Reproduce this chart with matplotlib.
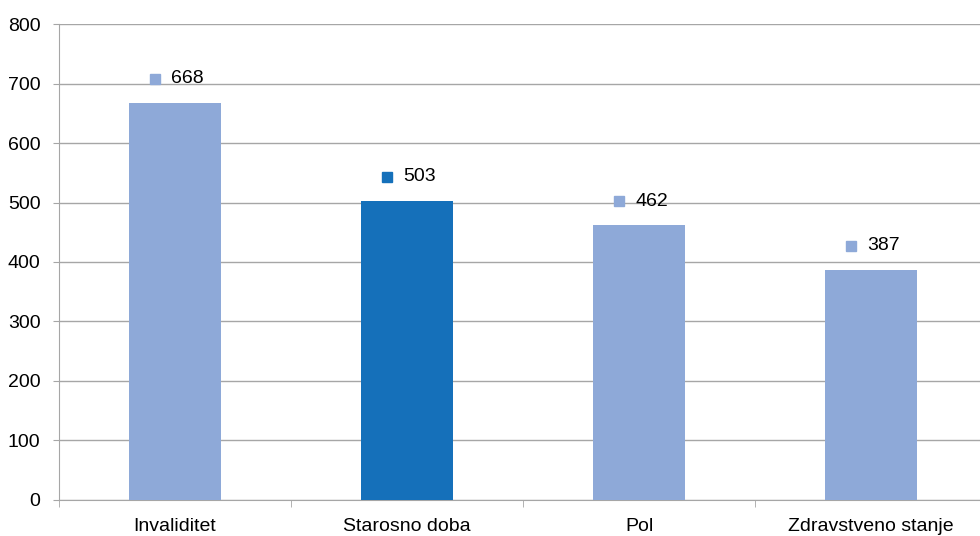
import matplotlib.pyplot as plt
import matplotlib.transforms as mtransforms
import numpy as np

plt.rcParams['font.family'] = ['Liberation Sans', 'DejaVu Sans']

kategorije = ['Invaliditet', 'Starosno doba', 'Pol', 'Zdravstveno stanje']
vrijednosti = [668, 503, 462, 387]
boje = ['#8EA9D8', '#1570BA', '#8EA9D8', '#8EA9D8']

fig = plt.figure(figsize=(9.8, 5.36), dpi=100)
ax = fig.add_axes([0.0602, 0.0672, 0.947, 0.888])

x = np.arange(len(kategorije))
ax.bar(x, vrijednosti, width=0.4, color=boje, zorder=3)

ax.set_xlim(-0.5, 3.5)
ax.set_ylim(0, 800)
ax.set_yticks(range(0, 801, 100))
ax.yaxis.grid(True, color='#A6A6A6', linewidth=1, zorder=0)
ax.tick_params(axis='y', length=4.3, color='#A6A6A6', labelsize=14, pad=9)

ax.set_xticks(x)
ax.set_xticklabels(kategorije, fontsize=14)
ax.set_xticks(np.arange(-0.5, 4, 1), minor=True)
ax.tick_params(axis='x', which='major', length=0, pad=13)
ax.tick_params(axis='x', which='minor', length=5, color='#A6A6A6', direction='out')

for s in ['top', 'right']:
    ax.spines[s].set_visible(False)
for s in ['left', 'bottom']:
    ax.spines[s].set_color('#A6A6A6')

# oznake vrijednosti s malim kvadratom
for i, v in enumerate(vrijednosti):
    tr = mtransforms.offset_copy(ax.transData, fig=fig, x=-20, y=24, units='dots')
    ax.plot([i], [v], marker='s', markersize=7.5, color=boje[i], transform=tr,
            linestyle='none', zorder=4, clip_on=False)
    ax.annotate(str(v), xy=(i, v), xytext=(-4, 24), textcoords='offset pixels',
                ha='left', va='center', fontsize=14, zorder=4)

fig.savefig('out.png', dpi=100)
